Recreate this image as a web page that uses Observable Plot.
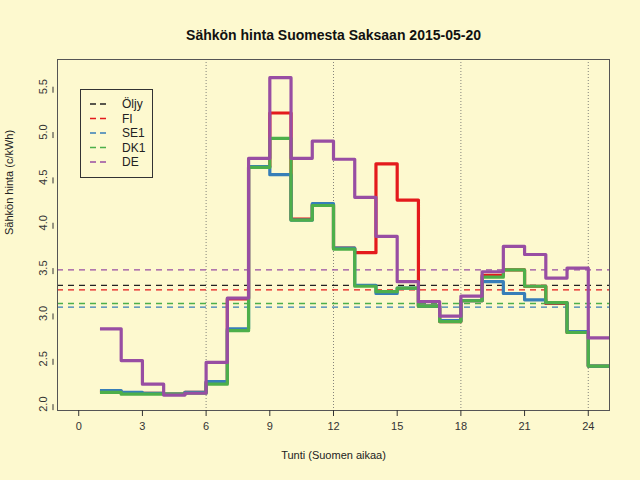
<!DOCTYPE html>
<html><head><meta charset="utf-8">
<script src="https://cdn.jsdelivr.net/npm/d3@7"></script>
<script src="https://cdn.jsdelivr.net/npm/@observablehq/plot@0.6"></script>
<style>
body{margin:0;background:#FDF9CF;font-family:"Liberation Sans",Arial,sans-serif;}
#wrap{position:relative;width:640px;height:480px;}
#legend{position:absolute;left:80px;top:89px;}
</style></head><body>
<div id="wrap"><div id="chart"></div><svg id="legend" width="74" height="90"></svg></div>
<script>
const hours = d3.range(1, 25);
const FI  = [2.14,2.12,2.12,2.11,2.13,2.24,3.16,4.62,5.21,4.04,4.20,3.72,3.67,4.65,4.25,3.08,2.91,3.14,3.42,3.48,3.30,3.11,2.79,2.42];
const SE1 = [2.15,2.13,2.12,2.11,2.13,2.25,2.83,4.62,4.53,4.03,4.21,3.72,3.31,3.22,3.28,3.08,2.92,3.14,3.35,3.22,3.15,3.12,2.80,2.42];
const DK1 = [2.13,2.11,2.11,2.11,2.12,2.22,2.81,4.61,4.93,4.03,4.19,3.71,3.30,3.24,3.28,3.08,2.91,3.14,3.40,3.48,3.30,3.12,2.79,2.42];
const DE  = [2.83,2.48,2.22,2.10,2.12,2.46,3.17,4.71,5.60,4.71,4.90,4.70,4.28,3.85,3.35,3.13,2.97,3.19,3.46,3.74,3.65,3.39,3.50,2.73];
const seriesNames = ["Öljy","FI","SE1","DK1","DE"];
const colors = ["#222222","#E41A1C","#377EB8","#4DAF4A","#984EA3"];
const means = [3.31,3.26,3.07,3.11,3.48];
const xTicks = [0,3,6,9,12,15,18,21,24];
const yTicks = [2.0,2.5,3.0,3.5,4.0,4.5,5.0,5.5];
const vlines = [6,12,18,24];

const stepData = (name, vals) => [...hours.map((h,i)=>({name,h,v:vals[i]})), {name,h:25,v:vals[vals.length-1]}];
const lines = [["FI",FI],["SE1",SE1],["DK1",DK1],["DE",DE]].flatMap(([n,v])=>stepData(n,v));
const meanData = seriesNames.map((n,i)=>({name:n,v:means[i]}));
const color = {domain: seriesNames, range: colors};

const plot = Plot.plot({
  width:640, height:480,
  marginLeft:57, marginRight:31, marginTop:59, marginBottom:70,
  style:{background:"transparent", fontFamily:"Liberation Sans, Arial, sans-serif", fontSize:"11px"},
  x:{domain:[-1,25]},
  y:{domain:[1.93,5.80]},
  color,
  marks:[
    Plot.ruleX(vlines,{stroke:"#666",strokeDasharray:"1,2",strokeWidth:0.8}),
    Plot.ruleY(meanData,{y:"v",stroke:"name",strokeDasharray:"6,5",strokeWidth:1.3}),
    Plot.line(lines,{x:"h",y:"v",z:"name",stroke:"name",curve:"step-after",strokeWidth:3.2,strokeLinecap:"butt"}),
    Plot.frame({stroke:"#555"}),
    Plot.axisX(xTicks,{tickSize:6,tickPadding:6,fill:"#333",stroke:"#333",fontSize:11,label:null}),
    Plot.axisY(yTicks,{tickSize:6,tickPadding:4,rotate:-90,textAnchor:"middle",dx:-4,fill:"#333",stroke:"#333",fontSize:11,label:null,tickFormat:d=>d.toFixed(1)}),
    Plot.text(["Sähkön hinta Suomesta Saksaan 2015-05-20"],{frameAnchor:"top",dy:-29,fontWeight:"bold",fontSize:14,fill:"#111"}),
    Plot.text(["Tunti (Suomen aikaa)"],{frameAnchor:"bottom",dy:48,fontSize:11,fill:"#222"}),
    Plot.text(["Sähkön hinta (c/kWh)"],{frameAnchor:"left",dx:-48,rotate:-90,fontSize:11,fill:"#222"})
  ]
});
document.getElementById("chart").appendChild(plot);

const lg = d3.select("#legend");
lg.append("rect").attr("x",0.5).attr("y",0.5).attr("width",72).attr("height",88).attr("fill","none").attr("stroke","#333");
seriesNames.forEach((n,i)=>{
  const y = 15 + i*14.5;
  lg.append("line").attr("x1",10).attr("x2",30).attr("y1",y).attr("y2",y).attr("stroke",colors[i]).attr("stroke-width",1.5).attr("stroke-dasharray","6,4");
  lg.append("text").attr("x",42).attr("y",y+4).text(n).attr("font-size",12).attr("fill","#222").attr("font-family","Liberation Sans, Arial, sans-serif");
});
</script></body></html>
